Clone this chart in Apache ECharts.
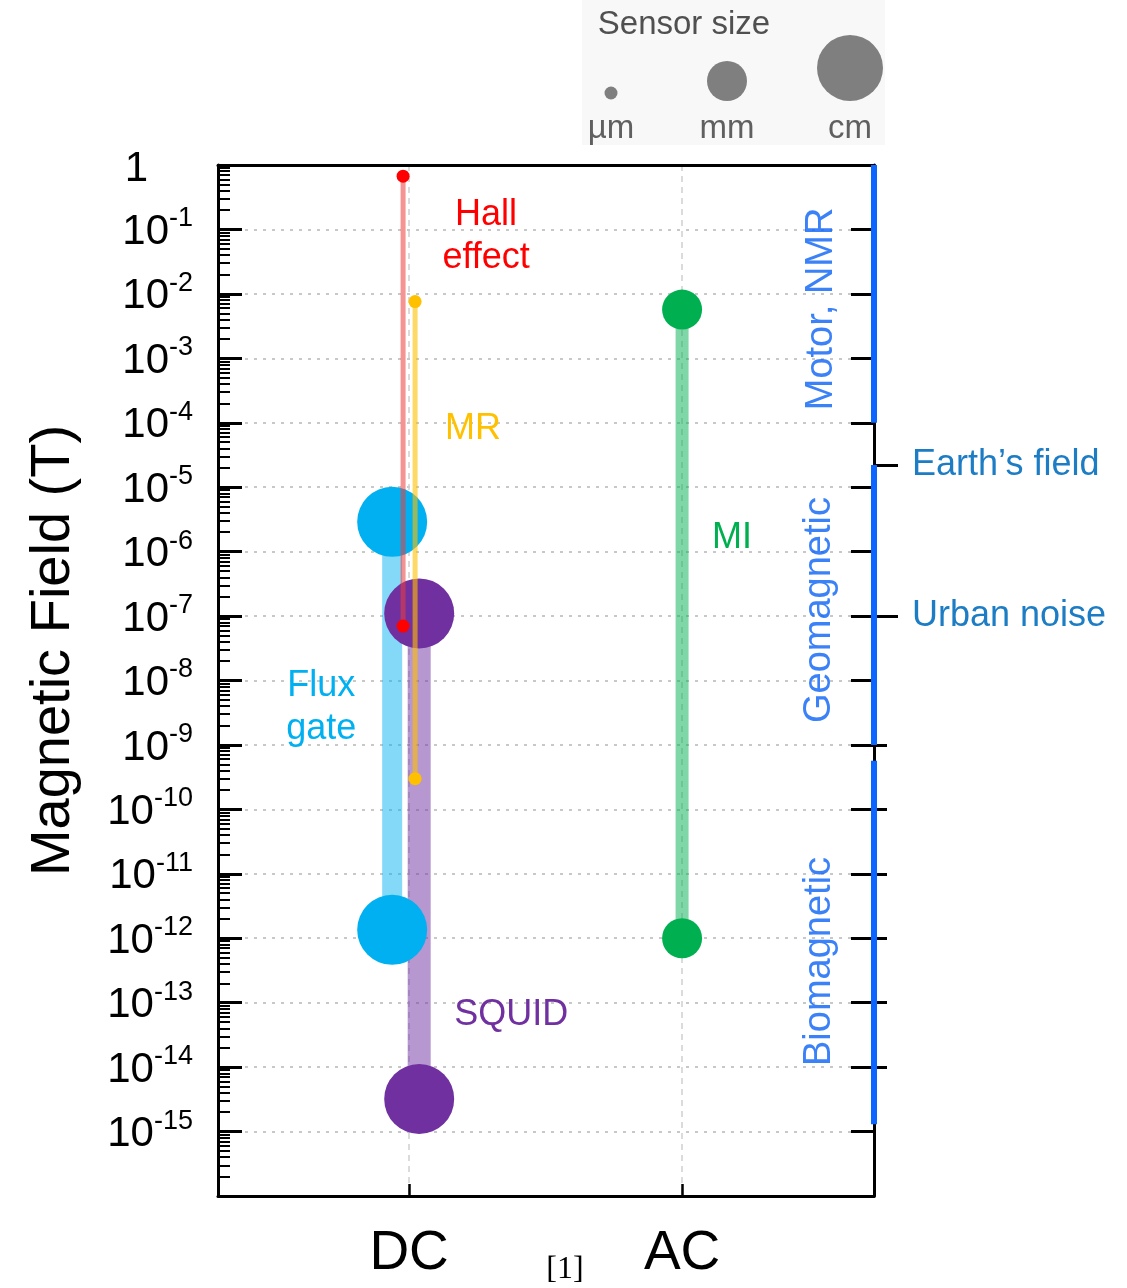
<!DOCTYPE html>
<html>
<head>
<meta charset="utf-8">
<script src="https://cdn.jsdelivr.net/npm/echarts@6/dist/echarts.min.js"></script>
<style>
  html, body { margin: 0; padding: 0; background: #fff; }
  #main { width: 1127px; height: 1288px; }
</style>
</head>
<body>
<div id="main"></div>
<script>
// ---- data ----
var modes = ['DC', 'AC'];
var sizeNames = ['µm', 'mm', 'cm'];

var sensorNames = ['Hall\neffect', 'MR', 'Flux\ngate', 'SQUID', 'MI'];
var sensorMode = ['DC', 'DC', 'DC', 'DC', 'AC'];
var sensorMax = [0.67, 7.6e-3, 2.9e-6, 1.1e-7, 5.7e-3];
var sensorMin = [7e-8, 3e-10, 1.35e-12, 3.2e-15, 1e-12];
var sensorSize = ['µm', 'µm', 'cm', 'cm', 'mm'];

var appNames = ['Motor, NMR', 'Geomagnetic', 'Biomagnetic'];
var appMax = [1, 2.2e-5, 5.7e-10];
var appMin = [1e-4, 1e-9, 1.3e-15];

var markerNames = ['Earth’s field', 'Urban noise'];
var markerValues = [2.2e-5, 1e-7];

// ---- style ----
var FONT = '"Liberation Sans", Arial, sans-serif';
var X_MIN = 0.3, X_MAX = 2.703;
var symSize = { 'µm': 13, 'mm': 40, 'cm': 70 };
var dotColor = ['#ff0000', '#ffc000', '#00b0f0', '#7030a0', '#00b050'];
var lineColor = ['rgba(238,60,60,0.55)', 'rgba(255,192,0,0.6)', 'rgba(0,176,240,0.48)', 'rgba(112,48,160,0.5)', 'rgba(0,176,80,0.5)'];
var lineWidth = [5, 5, 20, 23, 13];
var xNudge = [-0.022, 0.022, -0.062, 0.037, 0];
var labelEnd = [0, 0, 0, 1, 0];
var labelOffset = [[83, 60], [58, 128], [-71, 186], [92, -84], [50, 228]];
// rotated labels: offset is given in the label's own (rotated) frame
var appLabelOffset = [[-15, -52], [-5, -54], [-19, -54]];

var minorTicks = [];
for (var e = -16; e < 0; e++) {
  for (var k = 2; k <= 9; k++) minorTicks.push(k * Math.pow(10, e));
}
var outerTicks = [1e-9, 1e-10, 1e-11, 1e-12, 1e-13, 1e-14];

function exp10(v) { return Math.round(Math.log(v) / Math.LN10); }

var chart = echarts.init(document.getElementById('main'));

var series = [];
sensorNames.forEach(function (name, i) {
  var x = modes.indexOf(sensorMode[i]) + 1 + xNudge[i];
  var small = sensorSize[i] === 'µm';
  var pts = [[x, sensorMax[i]], [x, sensorMin[i]]];
  series.push({
    type: 'line', data: pts, symbol: 'none', silent: true,
    lineStyle: { color: lineColor[i], width: lineWidth[i] },
    z: small ? 4 : 2
  });
  series.push({
    type: 'scatter', symbol: 'circle', symbolSize: symSize[sensorSize[i]],
    itemStyle: { color: dotColor[i], opacity: 1 },
    z: small ? 5 : 3,
    data: pts.map(function (p, j) {
      var item = { value: p };
      if (j === labelEnd[i]) {
        item.label = {
          show: true, position: 'inside', offset: labelOffset[i],
          formatter: name, color: dotColor[i], fontFamily: FONT,
          fontSize: 36, lineHeight: 43, align: 'center'
        };
      }
      return item;
    })
  });
});

appNames.forEach(function (name, i) {
  series.push({
    type: 'line', data: [[X_MAX, appMax[i]], [X_MAX, appMin[i]]],
    symbol: 'none', clip: false, silent: true,
    lineStyle: { color: '#0a66ff', width: 6, cap: 'butt' }, z: 6
  });
});
series.push({
  type: 'scatter', clip: false, symbolSize: 1, silent: true,
  itemStyle: { color: 'rgba(0,0,0,0)' },
  data: appNames.map(function (n, i) {
    return {
      value: [X_MAX, Math.sqrt(appMax[i] * appMin[i])],
      label: { offset: appLabelOffset[i] }
    };
  }),
  label: {
    show: true, position: 'inside', rotate: 90,
    formatter: function (p) { return appNames[p.dataIndex]; },
    color: '#0a62f5', fontFamily: FONT, fontSize: 38
  }
});

var logBase = { type: 'log', logBase: 10, min: 1e-16, max: 1, interval: 1 };
function logAxis(extra) { return Object.assign({}, logBase, extra); }

var option = {
  animation: false,
  backgroundColor: '#fff',
  grid: { left: 218, top: 165, width: 656, height: 1031 },
  xAxis: [{
    type: 'value', min: X_MIN, max: X_MAX, position: 'bottom',
    axisLine: { lineStyle: { color: '#000', width: 3 } },
    axisTick: { inside: true, length: 12, customValues: [1, 2], lineStyle: { color: '#000', width: 2.5 } },
    axisLabel: {
      customValues: [1, 2], margin: 30, color: '#000', fontFamily: FONT, fontSize: 55,
      formatter: function (v) { return modes[Math.round(v) - 1]; }
    },
    splitLine: { show: true, lineStyle: { type: [6, 5], color: '#cfcfcf', width: 1.5 } }
  }, {
    type: 'value', min: X_MIN, max: X_MAX, position: 'top',
    axisLine: { lineStyle: { color: '#000', width: 3 } },
    axisTick: { show: false }, axisLabel: { show: false }, splitLine: { show: false }
  }],
  yAxis: [
    logAxis({
      position: 'left',
      name: 'Magnetic Field (T)', nameLocation: 'middle', nameRotate: 90, nameGap: 136,
      nameTextStyle: { fontFamily: FONT, fontSize: 56, color: '#000', padding: [0, 0, 0, 60] },
      axisLine: { lineStyle: { color: '#000', width: 3 } },
      axisTick: { inside: true, length: 24, lineStyle: { color: '#000', width: 3 } },
      axisLabel: {
        margin: 25, color: '#000', fontFamily: FONT,
        formatter: function (v) {
          var e = exp10(v);
          if (e === -16) return '';
          if (e === 0) return '{one|1}';
          return '{b|10}{s|' + e + '}';
        },
        rich: {
          one: { fontSize: 42, fontFamily: FONT, color: '#000', padding: [8, 45, 0, 0] },
          b: { fontSize: 42, fontFamily: FONT, color: '#000', lineHeight: 48, padding: [10, 0, 0, 0], verticalAlign: 'bottom' },
          s: { fontSize: 27, fontFamily: FONT, color: '#000', lineHeight: 27, padding: [0, 0, 0, 0], verticalAlign: 'top' }
        }
      },
      splitLine: { show: true, lineStyle: { type: [3, 6], color: '#c8c8c8', width: 2 } }
    }),
    logAxis({
      position: 'left', axisLine: { show: false },
      axisTick: { inside: true, length: 12, customValues: minorTicks, lineStyle: { color: '#000', width: 2 } },
      axisLabel: { show: false }, splitLine: { show: false }
    }),
    logAxis({
      position: 'right',
      axisLine: { lineStyle: { color: '#000', width: 3 } },
      axisTick: { inside: true, length: 23, lineStyle: { color: '#000', width: 3 } },
      axisLabel: { show: false }, splitLine: { show: false }
    }),
    logAxis({
      position: 'right', axisLine: { show: false },
      axisTick: { inside: false, length: 13, customValues: outerTicks, lineStyle: { color: '#000', width: 3 } },
      axisLabel: { show: false }, splitLine: { show: false }
    }),
    logAxis({
      position: 'right', axisLine: { show: false },
      axisTick: { inside: false, length: 24, customValues: markerValues, lineStyle: { color: '#000', width: 3 } },
      axisLabel: {
        customValues: markerValues, margin: 38, color: '#1c7cc4', fontFamily: FONT, fontSize: 36,
        padding: [6, 0, 0, 0],
        formatter: function (v) {
          for (var i = 0; i < markerValues.length; i++) {
            if (Math.abs(Math.log(v / markerValues[i])) < 0.02) return markerNames[i];
          }
          return '';
        }
      },
      splitLine: { show: false }
    })
  ],
  graphic: [
    { type: 'rect', left: 582, top: 0, shape: { width: 303, height: 145 }, style: { fill: '#f8f8f8' }, z: -1 },
    { type: 'text', x: 684, y: 25, style: { text: 'Sensor size', fill: '#505050', font: '33px ' + FONT, align: 'center', verticalAlign: 'middle' } },
    { type: 'circle', shape: { cx: 611, cy: 93, r: symSize['µm'] / 2 }, style: { fill: '#7f7f7f' } },
    { type: 'circle', shape: { cx: 727, cy: 81, r: symSize['mm'] / 2 }, style: { fill: '#7f7f7f' } },
    { type: 'circle', shape: { cx: 850, cy: 68, r: symSize['cm'] / 2 - 2 }, style: { fill: '#7f7f7f' } },
    { type: 'text', x: 611, y: 129, style: { text: sizeNames[0], fill: '#606060', font: '33px ' + FONT, align: 'center', verticalAlign: 'middle' } },
    { type: 'text', x: 727, y: 129, style: { text: sizeNames[1], fill: '#606060', font: '33px ' + FONT, align: 'center', verticalAlign: 'middle' } },
    { type: 'text', x: 850, y: 129, style: { text: sizeNames[2], fill: '#606060', font: '33px ' + FONT, align: 'center', verticalAlign: 'middle' } },
    { type: 'text', x: 565, y: 1270, style: { text: '[1]', fill: '#000', font: '32px "Liberation Serif", serif', align: 'center', verticalAlign: 'middle' } }
  ],
  series: series
};

chart.setOption(option);
</script>
</body>
</html>
